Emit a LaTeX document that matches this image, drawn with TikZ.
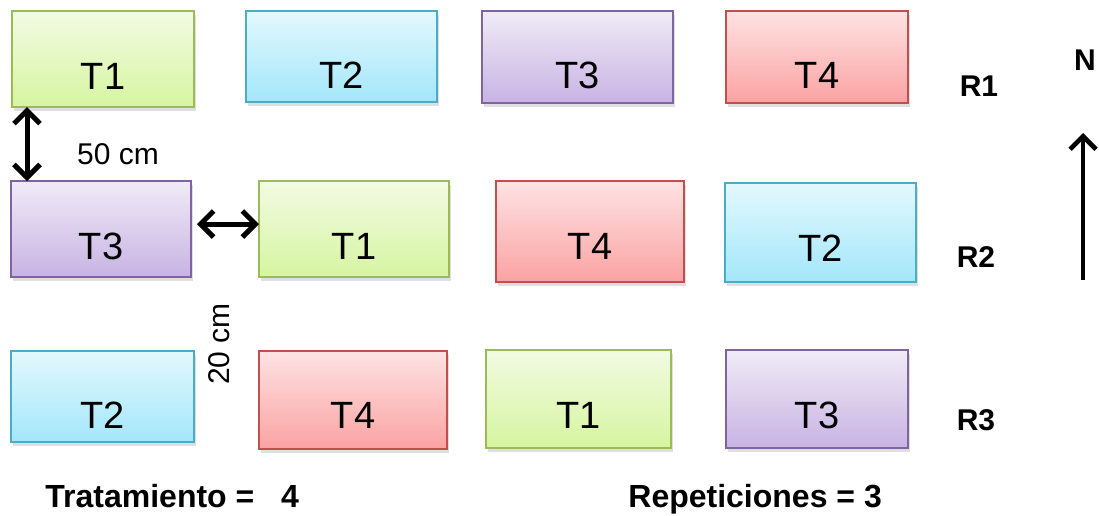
\documentclass[tikz,border=0pt]{standalone}
\usepackage{fontspec}
\setmainfont{Liberation Sans}
\usetikzlibrary{arrows.meta,shadows}
\definecolor{gB}{HTML}{9BBB59}\definecolor{gT}{HTML}{F2FBE3}\definecolor{gL}{HTML}{D6F5A0}
\definecolor{cB}{HTML}{4BACC6}\definecolor{cT}{HTML}{E3F8FD}\definecolor{cL}{HTML}{A3E7FB}
\definecolor{pB}{HTML}{8064A2}\definecolor{pT}{HTML}{F0EBF7}\definecolor{pL}{HTML}{C8B3E3}
\definecolor{rB}{HTML}{C0504D}\definecolor{rT}{HTML}{FEE3E3}\definecolor{rL}{HTML}{FBA2A2}
\tikzset{
  plotbox/.style={rectangle, inner sep=0pt, outer sep=0pt, line width=1pt,
    text depth=0pt, font=\fontsize{19}{19}\selectfont,
    drop shadow={opacity=0.25, shadow xshift=1.2pt, shadow yshift=-1.8pt}},
  tone/.style={plotbox, draw=gB, top color=gT, bottom color=gL},
  ttwo/.style={plotbox, draw=cB, top color=cT, bottom color=cL},
  tthree/.style={plotbox, draw=pB, top color=pT, bottom color=pL},
  tfour/.style={plotbox, draw=rB, top color=rT, bottom color=rL},
  rlab/.style={font=\fontsize{15}{15}\selectfont\bfseries},
  dimlab/.style={font=\fontsize{15}{15}\selectfont},
  bottomlab/.style={font=\fontsize{16}{16}\selectfont\bfseries, anchor=base west, inner sep=0pt},
  bigarrow/.style={line width=2.5pt, >={Straight Barb[length=6.5pt,width=13pt]}, <->},
  northarrow/.style={line width=2.3pt, >={Straight Barb[length=6.5pt,width=13pt]}, ->},
}
% #1 name, #2-#5 corners (px), #6 style, #7 text, #8 baseline y (px)
\newcommand\parcela[8]{%
  \node[#6, minimum width={(#4-#2)*0.5pt}, minimum height={(#5-#3)*0.5pt},
        text height={(#8-(#3+#5)/2)*1pt}]
    (#1) at ({(#2+#4)/2},{(#3+#5)/2}) {#7};}
\begin{document}
\begin{tikzpicture}[x=0.5pt,y=-0.5pt]
\useasboundingbox (0,0) rectangle (1099,515);
% row 1
\parcela{ra}{12}{11}{194}{107}{tone}{T1}{89}
\parcela{rb}{246}{11}{437}{102}{ttwo}{T2}{88}
\parcela{rc}{482}{11}{673}{103}{tthree}{T3}{88}
\parcela{rd}{726}{11}{908}{103}{tfour}{T4}{88}
% row 2
\parcela{sa}{11}{181}{191}{277}{tthree}{T3}{259}
\parcela{sb}{259}{181}{449}{277}{tone}{T1}{259}
\parcela{sc}{496}{181}{684}{282}{tfour}{T4}{259}
\parcela{sd}{725}{183}{916}{282}{ttwo}{T2}{261}
% row 3
\parcela{ta}{11}{351}{194}{442}{ttwo}{T2}{428}
\parcela{tb}{259}{351}{447}{449}{tfour}{T4}{428}
\parcela{tc}{486}{350}{671}{448}{tone}{T1}{428}
\parcela{td}{726}{350}{908}{448}{tthree}{T3}{428}
% row labels
\node[rlab] (r1) at (979,86) {R1};
\node[rlab] (r2) at (976,257) {R2};
\node[rlab] (r3) at (976,420) {R3};
% distances
\draw[bigarrow] ([xshift=7.5pt]ra.south west) -- ([xshift=8pt]sa.north west);
\node[dimlab] (d50) at (118,154) {50 cm};
\draw[bigarrow] ([xshift=3pt,yshift=2.5pt]sa.east) -- ([yshift=2.5pt]sb.west);
\node[dimlab, rotate=90] (d20) at (219,344) {20 cm};
% north arrow
\node[rlab] (north) at (1085,60) {N};
\coordinate (ntail) at (1083,280);
\coordinate (nhead) at (1083,133);
\draw[northarrow] (ntail) -- (nhead);
% bottom texts
\node[bottomlab] (trat) at (45,507) {Tratamiento =\ \ \ 4};
\node[bottomlab] (rep) at (628,507) {Repeticiones = 3};
\end{tikzpicture}
\end{document}
